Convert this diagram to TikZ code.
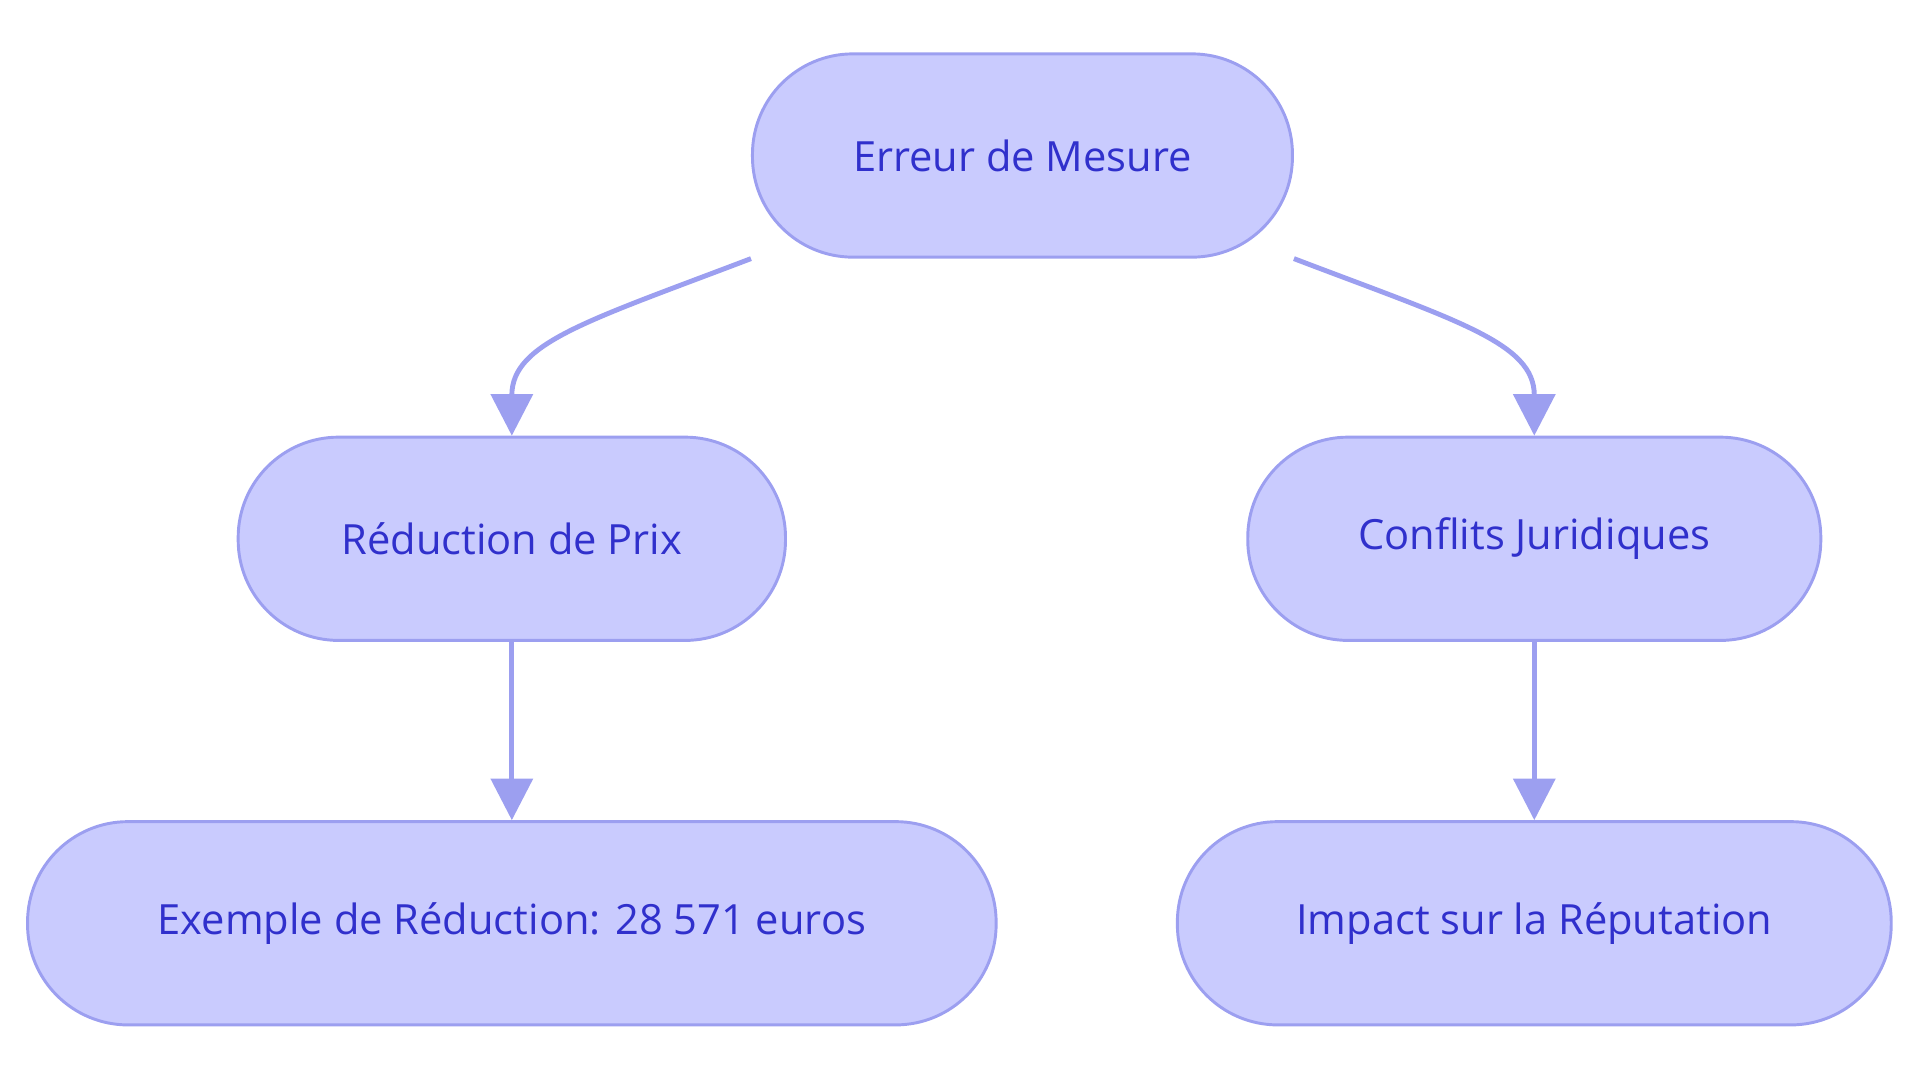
\documentclass[tikz,border=0pt]{standalone}
\usepackage{fontspec}
\setmainfont{Open Sans}
\usetikzlibrary{arrows.meta}
\definecolor{nfill}{HTML}{C9CBFE}
\definecolor{nline}{HTML}{9C9FF0}
\definecolor{ntext}{HTML}{3030CC}
\tikzset{
  box/.style={draw=nline,fill=nline!0!nfill,fill=nfill,line width=1.2pt,rounded corners=41pt,minimum height=83pt,text=ntext,font=\fontsize{17}{20}\selectfont,inner sep=0pt},
  conn/.style={draw=nline,line width=2pt,-{Triangle[length=17pt,width=17pt]}}
}
\begin{document}
\begin{tikzpicture}[x=0.5pt,y=-0.5pt]
\useasboundingbox (0,0) rectangle (1568,884);
\node[box,minimum width=220.5pt] (a) at (835,127) {Erreur de Mesure};
\node[box,minimum width=223.5pt] (b) at (418,440) {Réduction de Prix};
\node[box,minimum width=234pt] (c) at (1253,440) {Conflits Juridiques};
\node[box,minimum width=395.5pt] (d) at (418,754) {Exemple de Réduction: 28 571 euros};
\node[box,minimum width=291.5pt] (e) at (1253,754) {Impact sur la Réputation};
\draw[conn] (a.south west) .. controls (480,262) and (418,280) .. (b.north);
\draw[conn] (a.south east) .. controls (1190,262) and (1253,280) .. (c.north);
\draw[conn] (b) -- (d);
\draw[conn] (c) -- (e);
\end{tikzpicture}
\end{document}
